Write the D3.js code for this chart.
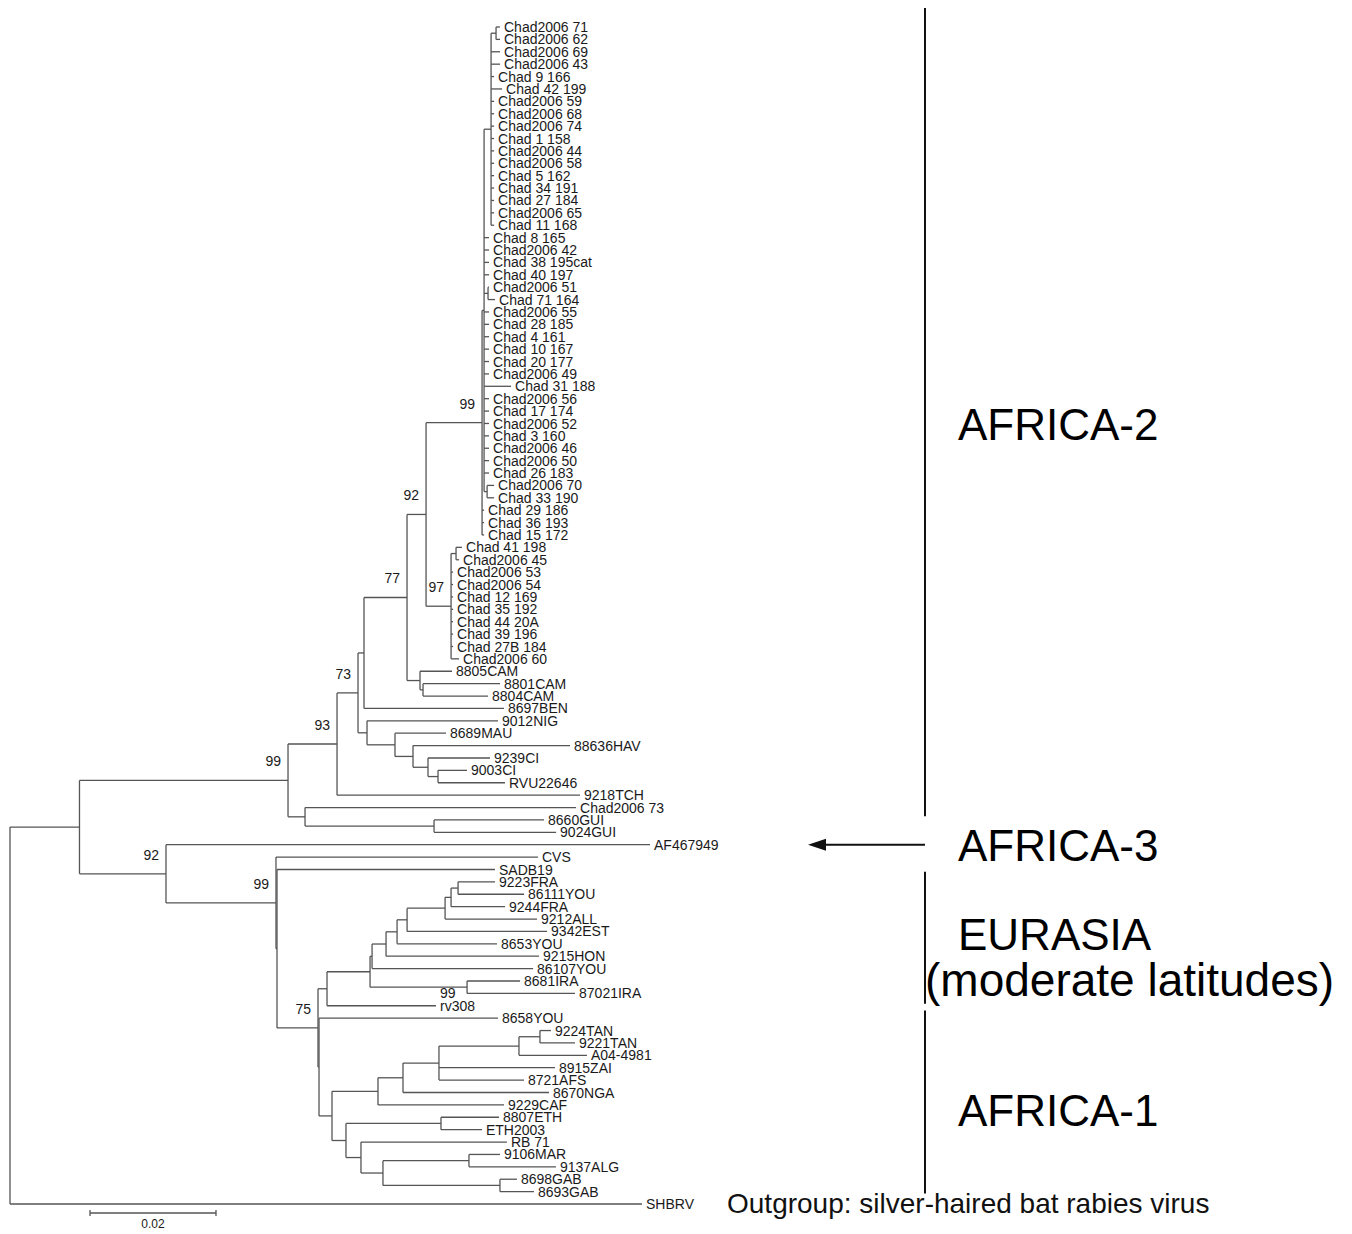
<!DOCTYPE html>
<html><head><meta charset="utf-8">
<script src="https://cdn.jsdelivr.net/npm/d3@7"></script>
<style>body{margin:0;background:#fff}text{font-family:"Liberation Sans",Arial,sans-serif}</style>
</head><body>
<svg id="chart" width="1352" height="1234"></svg>
<script>
// ---- DATA: [node, parent, branch length (subst./site)] ----
const rootRows = [["root","",0],["ingroup","root",0.01103]];
const africa2Rows = [
["nAF2","ingroup",0.0331],["n93","nAF2",0.00778],["n73","n93",0.00333],["n364","n73",0.00095],
["n407","n364",0.00683],["n426","n407",0.00302],["nC99","n426",0.00889],["nC1","nC99",0.00032],
["nC2","nC1",0.00111],["nP1","nC2",0.00079],["Chad2006 71","nP1",0.00063],["Chad2006 62","nP1",0.00063],
["Chad2006 69","nC2",0.00143],["Chad2006 43","nC2",0.00143],["Chad 9 166","nC2",0.00048],["Chad 42 199","nC2",0.00175],
["Chad2006 59","nC2",0.00048],["Chad2006 68","nC2",0.00048],["Chad2006 74","nC2",0.00048],["Chad 1 158","nC2",0.00048],
["Chad2006 44","nC2",0.00048],["Chad2006 58","nC2",0.00048],["Chad 5 162","nC2",0.00048],["Chad 34 191","nC2",0.00048],
["Chad 27 184","nC2",0.00048],["Chad2006 65","nC2",0.00048],["Chad 11 168","nC2",0.00048],
["Chad 8 165","nC1",0.00079],["Chad2006 42","nC1",0.00079],["Chad 38 195cat","nC1",0.00079],["Chad 40 197","nC1",0.00079],
["nP2","nC1",0.00063],["Chad2006 51","nP2",0.00016],["Chad 71 164","nP2",0.00111],
["Chad2006 55","nC1",0.00079],["Chad 28 185","nC1",0.00079],["Chad 4 161","nC1",0.00079],["Chad 10 167","nC1",0.00079],
["Chad 20 177","nC1",0.00079],["Chad2006 49","nC1",0.00079],["Chad 31 188","nC1",0.00429],["Chad2006 56","nC1",0.00079],
["Chad 17 174","nC1",0.00079],["Chad2006 52","nC1",0.00079],["Chad 3 160","nC1",0.00079],["Chad2006 46","nC1",0.00079],
["Chad2006 50","nC1",0.00079],["Chad 26 183","nC1",0.00079],["nP70","nC1",0.00048],["Chad2006 70","nP70",0.00111],
["Chad 33 190","nP70",0.00111],["Chad 29 186","nC99",0.00032],["Chad 36 193","nC99",0.00032],["Chad 15 172","nC99",0.00032],
["n97","n426",0.00397],["nP41","n97",0.00079],["Chad 41 198","nP41",0.00095],["Chad2006 45","nP41",0.00048],
["Chad2006 53","n97",0.00032],["Chad2006 54","n97",0.00032],["Chad 12 169","n97",0.00032],["Chad 35 192","n97",0.00032],
["Chad 44 20A","n97",0.00032],["Chad 39 196","n97",0.00032],["Chad 27B 184","n97",0.00032],["Chad2006 60","n97",0.00127],
["nCAM","n407",0.00206],["8805CAM","nCAM",0.00508],["nCAM2","nCAM",0.00048],["8801CAM","nCAM2",0.01222],["8804CAM","nCAM2",0.01032],
["8697BEN","n364",0.02222],["n367","n73",0.00143],["9012NIG","n367",0.02079],["n395","n367",0.00444],["8689MAU","n395",0.0081],
["n413","n395",0.00286],["88636HAV","n413",0.02492],["n428","n413",0.00238],["9239CI","n428",0.00984],["n438","n428",0.00159],
["9003CI","n438",0.0046],["RVU22646","n438",0.01063],["9218TCH","n93",0.03857],
["nGUI","nAF2",0.0027],["Chad2006 73","nGUI",0.04302],["nGUI2","nGUI",0.02048],["8660GUI","nGUI2",0.01746],["9024GUI","nGUI2",0.01937]
];
const africa3Rows = [["n92","ingroup",0.01373],["AF467949","n92",0.07683],["n99b","n92",0.01746],["CVS","n99b",0.04159]];
const eurasiaRows = [
["nN2","n99b",0.00016],["SADB19","nN2",0.0346],["n75","nN2",0.00651],["n327","n75",0.00143],["n370","n327",0.00683],
["n372","n370",0.00032],["n386","n372",0.00222],["n397","n386",0.00175],["n407e","n397",0.00159],["n445","n407e",0.00603],
["n451e","n445",0.00095],["nFRA","n451e",0.00111],["9223FRA","nFRA",0.00587],["86111YOU","nFRA",0.01048],["9244FRA","n451e",0.00857],
["9212ALL","n445",0.0146],["9342EST","n407e",0.02222],["8653YOU","n397",0.01587],["9215HON","n386",0.02429],["86107YOU","n372",0.02556],
["nIRA","n370",0.0154],["8681IRA","nIRA",0.00841],["87021IRA","nIRA",0.01714],["rv308","n327",0.0173],
["nZ","n75",0.00016],["8658YOU","nZ",0.02841]
];
const africa1Rows = [
["nAF1","nZ",0.00206],["n378","nAF1",0.0073],["n403","n378",0.00397],["n439","n403",0.00571],["n519","n439",0.0127],
["nTAN","n519",0.00333],["9224TAN","nTAN",0.00175],["9221TAN","nTAN",0.00556],["A04-4981","n519",0.01079],
["8915ZAI","n439",0.01841],["8721AFS","n439",0.01349],["8670NGA","n403",0.02317],["9229CAF","n378",0.02],
["nY","nAF1",0.00222],["nETH","nY",0.01508],["8807ETH","nETH",0.00921],["ETH2003","nETH",0.00651],["nQ","nY",0.00238],
["RB 71","nQ",0.02317],["nR","nQ",0.00349],["nMAR","nR",0.01365],["9106MAR","nMAR",0.00492],["9137ALG","nMAR",0.01381],
["nGAB","nR",0.01857],["8698GAB","nGAB",0.0027],["8693GAB","nGAB",0.0054]
];
const outgroupRows = [["SHBRV","root",0.10032]];

const bootstrapNodes  = ["nAF2","n93","n73","n407","n426","nC99","n97","n92","n99b","n75"];
const bootstrapValues = [99, 93, 73, 77, 92, 99, 97, 92, 99, 75];
const leafNoteLeaves = ["rv308"];
const leafNoteValues = ["99"];

const groupNames = ["AFRICA-2","EURASIA","AFRICA-1"];
const groupFirst = ["Chad2006 71","9223FRA","9224TAN"];
const groupLast  = ["9024GUI","rv308","8693GAB"];
const arrowGroup = {name:"AFRICA-3", leaf:"AF467949"};
const eurasiaSub = "(moderate latitudes)";
const outgroupNote = "Outgroup: silver-haired bat rabies virus";
const scaleBarValue = 0.02;

// ---- BUILD ----
const rows = [...rootRows, ...africa2Rows, ...africa3Rows, ...eurasiaRows, ...africa1Rows, ...outgroupRows];
const root = d3.stratify().id(r => r[0]).parentId(r => r[1] || null)(rows);
root.eachBefore(n => { n.dist = n.parent ? n.parent.dist + n.data[2] : 0; });
const leaves = root.leaves();

const x = d3.scaleLinear().domain([0, 0.1]).range([10, 640]);
const y = d3.scalePoint().domain(leaves.map(d => d.id)).range([27, 1204]);

root.eachAfter(n => {
  n.px = x(n.dist);
  if (!n.children) n.py = y(n.id);
  else n.py = (n.children[0].py + n.children[n.children.length - 1].py) / 2;
});
const byId = new Map(root.descendants().map(n => [n.id, n]));

const svg = d3.select("#chart");
const lineCol = "#555";
const g = svg.append("g").attr("stroke", lineCol).attr("stroke-width", 1.3).attr("fill", "none");

g.selectAll("line.h").data(root.descendants().filter(n => n.parent)).join("line")
  .attr("x1", d => d.parent.px).attr("x2", d => d.px).attr("y1", d => d.py).attr("y2", d => d.py);
g.selectAll("line.v").data(root.descendants().filter(n => n.children)).join("line")
  .attr("x1", d => d.px).attr("x2", d => d.px)
  .attr("y1", d => d.children[0].py).attr("y2", d => d.children[d.children.length - 1].py);

svg.append("g").selectAll("text").data(leaves).join("text")
  .attr("x", d => d.px + 4).attr("y", d => d.py).attr("dy", "0.36em")
  .attr("font-size", 14).attr("fill", "#1a1a1a").text(d => d.id);

svg.append("g").selectAll("text").data(bootstrapNodes.map((id, i) => ({n: byId.get(id), v: bootstrapValues[i]}))).join("text")
  .attr("x", d => d.n.px - 7).attr("y", d => d.n.py - 14).attr("text-anchor", "end")
  .attr("font-size", 14).attr("fill", "#1a1a1a").text(d => d.v);

svg.append("g").selectAll("text").data(leafNoteLeaves.map((id, i) => ({n: byId.get(id), v: leafNoteValues[i]}))).join("text")
  .attr("x", d => d.n.px + 4).attr("y", d => d.n.py - 8)
  .attr("font-size", 14).attr("fill", "#1a1a1a").text(d => d.v);

// scale bar
const sbX0 = 90, sbY = 1213, sbLen = x(scaleBarValue) - x(0);
const sb = svg.append("g").attr("stroke", lineCol).attr("stroke-width", 1.3);
sb.append("line").attr("x1", sbX0).attr("x2", sbX0 + sbLen).attr("y1", sbY).attr("y2", sbY);
sb.append("line").attr("x1", sbX0).attr("x2", sbX0).attr("y1", sbY - 3).attr("y2", sbY + 3);
sb.append("line").attr("x1", sbX0 + sbLen).attr("x2", sbX0 + sbLen).attr("y1", sbY - 3).attr("y2", sbY + 3);
svg.append("text").attr("x", sbX0 + sbLen / 2).attr("y", sbY + 15).attr("text-anchor", "middle")
  .attr("font-size", 12).attr("fill", "#1a1a1a").text(String(scaleBarValue));

// group brackets
const bx = 925;
const gb = svg.append("g");
groupNames.forEach((name, i) => {
  const y0 = y(groupFirst[i]), y1 = y(groupLast[i]);
  let top = y0 - 10, bot = y1 - 2;
  if (i === 0) { top = y0 - 19; bot = y1 - 16; }
  if (i === 2) { top = y0 - 20; bot = y1 + 2; }
  gb.append("line").attr("x1", bx).attr("x2", bx).attr("y1", top).attr("y2", bot)
    .attr("stroke", "#111").attr("stroke-width", 2);
});
const bigFont = 44;
const a2 = y(groupFirst[0]), a2b = y(groupLast[0]);
gb.append("text").attr("x", 958).attr("y", (a2 + a2b) / 2 + 10).attr("font-size", bigFont).text(groupNames[0]);
const eu0 = y(groupFirst[1]), eu1 = y(groupLast[1]);
gb.append("text").attr("x", 958).attr("y", (eu0 + eu1) / 2 + 6).attr("font-size", bigFont).text(groupNames[1]);
gb.append("text").attr("x", 925).attr("y", (eu0 + eu1) / 2 + 52).attr("font-size", 46).text(eurasiaSub);
const af0 = y(groupFirst[2]), af1 = y(groupLast[2]);
gb.append("text").attr("x", 958).attr("y", (af0 + af1) / 2 + 15).attr("font-size", bigFont).text(groupNames[2]);

const ay = y(arrowGroup.leaf);
gb.append("line").attr("x1", bx).attr("x2", 822).attr("y1", ay).attr("y2", ay).attr("stroke", "#111").attr("stroke-width", 2);
gb.append("path").attr("d", `M808,${ay} L826,${ay - 6} L826,${ay + 6} Z`).attr("fill", "#111");
gb.append("text").attr("x", 958).attr("y", ay + 16).attr("font-size", bigFont).text(arrowGroup.name);

const sh = byId.get("SHBRV");
svg.append("text").attr("x", 727).attr("y", sh.py + 9).attr("font-size", 28).attr("fill", "#111").text(outgroupNote);
</script>
</body></html>
